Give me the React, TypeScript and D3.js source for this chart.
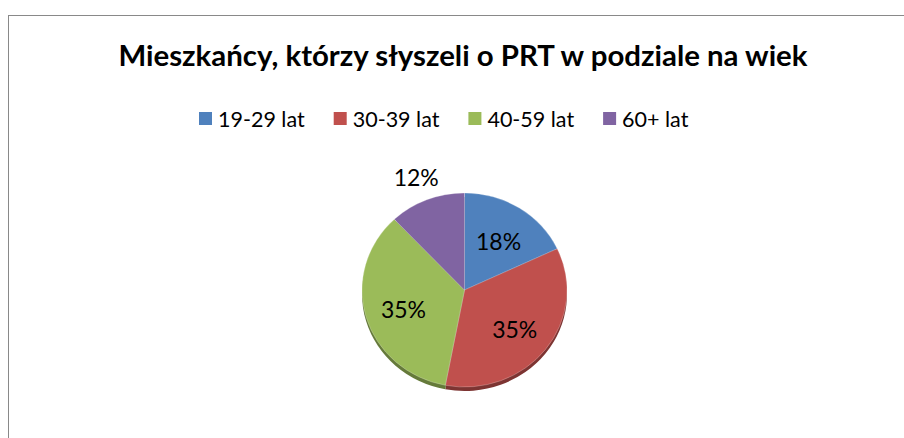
import * as d3 from 'd3';
import React, { useRef, useEffect } from 'react';

const title = 'Mieszkańcy, którzy słyszeli o PRT w podziale na wiek';
const categories = ['19-29 lat', '30-39 lat', '40-59 lat', '60+ lat'];
const values = [18, 35, 35, 12];
const colors = ['#4F81BD', '#C0504D', '#9BBB59', '#8064A2'];

const W = 904;
const H = 438;
const FONT = 'Lato, "Open Sans", sans-serif';

function PieChart() {
    const ref = useRef<SVGSVGElement>(null);

    useEffect(() => {
        const svg = d3.select(ref.current);
        svg.selectAll('*').remove();

        // chart frame (runs off the right and bottom edge)
        svg.append('rect')
            .attr('x', 8.5).attr('y', 15.5)
            .attr('width', W + 20).attr('height', H + 20)
            .attr('fill', '#fff')
            .attr('stroke', '#898989')
            .attr('stroke-width', 1);

        svg.append('text')
            .attr('x', 463).attr('y', 66)
            .attr('text-anchor', 'middle')
            .attr('font-family', FONT)
            .attr('font-weight', 700)
            .attr('font-size', 29.4)
            .attr('fill', '#000')
            .text(title);

        // legend
        const legend = svg.append('g');
        let x = 199;
        categories.forEach((c, i) => {
            legend.append('rect')
                .attr('x', x).attr('y', 112)
                .attr('width', 13).attr('height', 13)
                .attr('fill', colors[i]);
            const t = legend.append('text')
                .attr('x', x + 19).attr('y', 119)
                .attr('dominant-baseline', 'central')
                .attr('font-family', FONT)
                .attr('font-size', 21.5)
                .attr('fill', '#000')
                .text(c);
            const tw = (t.node() as SVGTextElement).getComputedTextLength();
            x = x + 19 + tw + 29;
        });

        // pie
        const cx = 464.5, cy = 290, r = 102.5, ry = 97, depth = 4;
        const sy = ry / r;
        const pie = d3.pie<number>().sort(null).value(d => d);
        const arcs = pie(values);
        const arc = d3.arc<d3.PieArcDatum<number>>().innerRadius(0).outerRadius(r);

        const side = svg.append('g').attr('transform', `translate(${cx},${cy + depth}) scale(1,${sy})`);
        side.selectAll('path').data(arcs).enter().append('path')
            .attr('d', arc)
            .attr('fill', (d, i) => d3.color(colors[i])!.darker(1.2).toString());

        const top = svg.append('g').attr('transform', `translate(${cx},${cy}) scale(1,${sy})`);
        top.selectAll('path').data(arcs).enter().append('path')
            .attr('d', arc)
            .attr('fill', (d, i) => colors[i])
            .attr('stroke', 'rgba(255,255,255,0.35)')
            .attr('stroke-width', 0.7);

        // data labels
        arcs.forEach((a, i) => {
            const mid = (a.startAngle + a.endAngle) / 2;
            const lr = values[i] < 15 ? r * 1.28 : r * 0.62;
            svg.append('text')
                .attr('x', cx + Math.sin(mid) * lr)
                .attr('y', cy - Math.cos(mid) * lr * sy + 2)
                .attr('text-anchor', 'middle')
                .attr('dominant-baseline', 'central')
                .attr('font-family', FONT)
                .attr('font-size', 23)
                .attr('fill', '#000')
                .text(values[i] + '%');
        });
    }, []);

    return (
        <div style={{ position: 'fixed', left: 0, top: 0, width: W, height: H, background: '#fff' }}>
            <svg ref={ref} width={W} height={H} style={{ display: 'block' }} />
        </div>
    );
}

export default function App() {
    return <PieChart />;
}
